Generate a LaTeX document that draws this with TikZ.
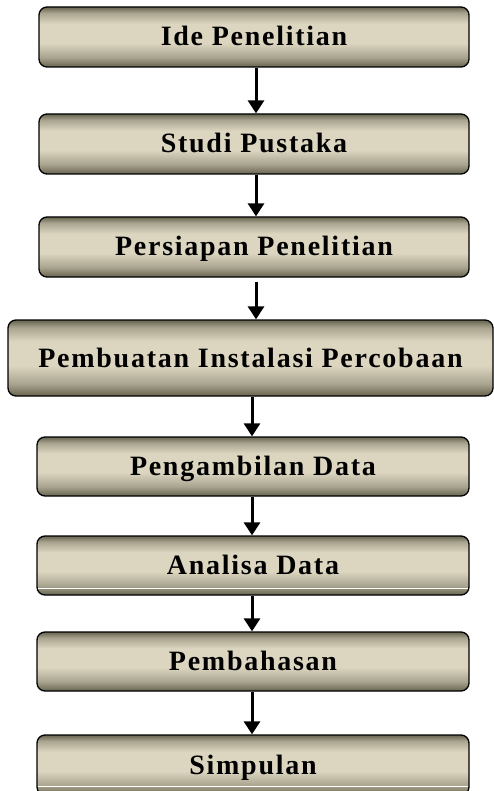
\documentclass[tikz,border=0pt]{standalone}
\usepackage{fontspec}
\setmainfont{Liberation Serif}
\newfontfamily\boxfont{Liberation Serif}[LetterSpace=6.2]
\usetikzlibrary{arrows.meta}
\definecolor{dk}{HTML}{66634F}
\definecolor{md}{HTML}{A9A48F}
\definecolor{lt}{HTML}{DCD6C1}
\pgfdeclareverticalshading{boxshade}{100bp}{color(0bp)=(dk); color(25bp)=(dk); color(33bp)=(md); color(45bp)=(lt); color(61bp)=(lt); color(70bp)=(md); color(75bp)=(dk); color(100bp)=(dk)}
\tikzset{
  stepbox/.style={draw=black, line width=1.3pt, rounded corners=8pt, shading=boxshade,
    inner sep=0pt, text height=18pt, text depth=0pt,
    font=\boxfont\bfseries\fontsize{28}{32}\selectfont},
  arr/.style={line width=3pt, -{Triangle[length=13pt,width=16pt]}},
  glint/.style={white, line width=0.8pt}
}
\begin{document}
\begin{tikzpicture}[x=1pt,y=-1pt]
\useasboundingbox (0,0) rectangle (494,791);
\clip (0,0) rectangle (494,791);
\node[stepbox, minimum width=430pt, minimum height=60pt] (b1) at (254,37) {Ide Penelitian};
\node[stepbox, minimum width=430pt, minimum height=60pt] (b2) at (254,144) {Studi Pustaka};
\node[stepbox, minimum width=430pt, minimum height=60pt] (b3) at (254,247) {Persiapan Penelitian};
\node[stepbox, minimum width=485pt, minimum height=76pt] (b4) at (250.5,358) {Pembuatan Instalasi Percobaan};
\node[stepbox, minimum width=432pt, minimum height=59pt] (b5) at (253,466.5) {Pengambilan Data};
\node[stepbox, minimum width=432pt, minimum height=59pt] (b6) at (253,565.5) {Analisa Data};
\node[stepbox, minimum width=432pt, minimum height=59pt] (b7) at (253,661.5) {Pembahasan};
\node[stepbox, minimum width=432pt, minimum height=60pt] (b8) at (253,765) {Simpulan};
\draw[glint] (38,588) -- (468,588);
\draw[glint] (38,786) -- (468,786);
\coordinate (xa) at (256,0);
\coordinate (xb) at (252,0);
\draw[arr] (b1.south -| xa) -- (b2.north -| xa);
\draw[arr] (b2.south -| xa) -- (b3.north -| xa);
\draw[arr] ([yshift=-4pt]b3.south -| xa) -- (b4.north -| xa);
\draw[arr] (b4.south -| xb) -- (b5.north -| xb);
\draw[arr] (b5.south -| xb) -- (b6.north -| xb);
\draw[arr] (b6.south -| xb) -- (b7.north -| xb);
\draw[arr] (b7.south -| xb) -- (b8.north -| xb);
\end{tikzpicture}
\end{document}
